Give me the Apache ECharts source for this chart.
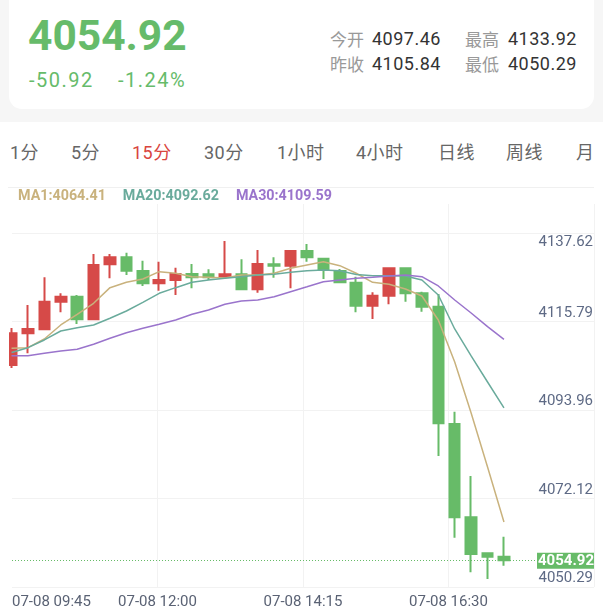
<!DOCTYPE html>
<html>
<head>
<meta charset="utf-8">
<script src="https://cdn.jsdelivr.net/npm/echarts@6/dist/echarts.min.js"></script>
<style>
  body { margin: 0; width: 603px; height: 612px; overflow: hidden; background: #fff;
         font-family: Roboto, "Noto Sans CJK SC", sans-serif; position: relative; }
  .band { position: absolute; left: 0; top: 0; width: 603px; height: 122px; background: #f6f6f6; }
  .card { position: absolute; left: 9px; top: -20px; width: 585px; height: 129px; background: #fff;
          border-radius: 0 0 13px 13px; }
  .price { position: absolute; left: 28px; top: 14px; font-size: 42.5px; line-height: 44px; font-weight: bold; color: #66bb6a; }
  .chg { position: absolute; top: 70px; font-size: 20px; line-height: 20px; color: #66bb6a; letter-spacing: 1.5px; }
  .k { position: absolute; font-size: 17px; line-height: 18px; color: #999; font-family: "Noto Sans CJK SC", sans-serif; }
  .v { position: absolute; font-size: 18px; line-height: 18px; color: #333; letter-spacing: 0.5px; }
  .tabs { position: absolute; left: 0; top: 143px; width: 594px; height: 24px; overflow: hidden;
          font-size: 18px; line-height: 20px; color: #666; white-space: nowrap; }
  .tabs span { position: absolute; top: 0; letter-spacing: 0.5px; }
  .tabs .on { color: #d9453e; }
  .sep { position: absolute; left: 8px; width: 586px; top: 187px; height: 1px; background: #f0f0f0; }
  #chart { position: absolute; left: 9px; top: 188px; width: 594px; height: 424px; }
</style>
</head>
<body>
<div class="band"></div>
<div class="card"></div>
<div class="price">4054.92</div>
<div class="chg" style="left:29px">-50.92</div>
<div class="chg" style="left:118px">-1.24%</div>
<div class="k" style="left:330px;top:30px">今开</div>
<div class="v" style="left:372px;top:30px">4097.46</div>
<div class="k" style="left:465px;top:30px">最高</div>
<div class="v" style="left:508px;top:30px">4133.92</div>
<div class="k" style="left:330px;top:55px">昨收</div>
<div class="v" style="left:372px;top:55px">4105.84</div>
<div class="k" style="left:465px;top:55px">最低</div>
<div class="v" style="left:508px;top:55px">4050.29</div>
<div class="tabs">
  <span style="left:10px">1分</span><span style="left:71px">5分</span><span class="on" style="left:132px">15分</span>
  <span style="left:204px">30分</span><span style="left:277px">1小时</span><span style="left:356px">4小时</span>
  <span style="left:438px">日线</span><span style="left:506px">周线</span><span style="left:576px">月线</span>
</div>
<div class="sep"></div>
<div id="chart"></div>

<script>
// 15分钟K线 07-08
const times = ['07-08 09:45', '07-08 10:00', '07-08 10:15', '07-08 10:30', '07-08 10:45', '07-08 11:00',
  '07-08 11:15', '07-08 11:30', '07-08 11:45', '07-08 12:00', '07-08 12:15', '07-08 12:30', '07-08 12:45',
  '07-08 13:00', '07-08 13:15', '07-08 13:30', '07-08 13:45', '07-08 14:00', '07-08 14:15', '07-08 14:30',
  '07-08 14:45', '07-08 15:00', '07-08 15:15', '07-08 15:30', '07-08 15:45', '07-08 16:00', '07-08 16:15',
  '07-08 16:30', '07-08 16:45', '07-08 17:00', '07-08 17:15'];

// [open, close, low, high]
const candles = [
  [4103.24, 4111.08, 4102.50, 4112.40], [4111.08, 4112.15, 4106.14, 4118.09], [4112.07, 4118.90, 4111.90, 4124.94],
  [4118.90, 4120.14, 4116.28, 4120.98], [4120.14, 4114.55, 4113.38, 4120.56], [4114.55, 4127.98, 4114.37, 4130.70],
  [4128.16, 4129.89, 4124.69, 4130.70], [4129.89, 4126.57, 4125.51, 4131.03], [4126.50, 4123.45, 4122.79, 4129.05],
  [4123.45, 4124.27, 4121.62, 4128.80], [4124.27, 4125.76, 4120.56, 4127.32], [4125.76, 4124.94, 4122.22, 4128.23],
  [4125.68, 4124.94, 4124.27, 4126.92], [4125.09, 4125.68, 4124.94, 4133.92], [4125.68, 4121.97, 4121.90, 4129.39],
  [4121.97, 4128.23, 4121.13, 4131.69], [4128.16, 4127.81, 4124.84, 4129.89], [4127.81, 4131.45, 4122.22, 4131.69],
  [4131.45, 4129.89, 4128.80, 4133.18], [4129.54, 4126.75, 4124.52, 4129.79], [4126.50, 4123.70, 4123.45, 4126.99],
  [4123.60, 4117.91, 4116.28, 4125.09], [4117.91, 4120.39, 4114.62, 4121.23], [4120.39, 4127.17, 4118.26, 4127.24],
  [4127.17, 4120.98, 4118.90, 4127.32], [4120.98, 4117.67, 4116.43, 4121.38], [4117.67, 4088.82, 4080.72, 4120.81],
  [4088.64, 4065.56, 4060.51, 4091.68], [4065.56, 4056.48, 4051.95, 4075.78], [4056.65, 4055.81, 4050.29, 4056.65],
  [4055.81, 4054.92, 4053.58, 4060.76]
];

const ma1 = [4107.37, 4107.52, 4109.67, 4113.14, 4115.78, 4118.51, 4122.37, 4123.70, 4124.52, 4126.33, 4125.93,
  4125.09, 4124.94, 4124.77, 4125.51, 4125.51, 4125.93, 4127.17, 4127.98, 4128.80, 4127.81, 4125.93, 4123.70,
  4123.21, 4122.04, 4120.31, 4114.37, 4103.98, 4091.36, 4078.00, 4064.41];
const ma20 = [4106.33, 4107.52, 4109.43, 4111.65, 4112.47, 4113.14, 4114.80, 4116.60, 4118.75, 4120.98, 4122.37,
  4123.70, 4124.27, 4124.69, 4125.09, 4125.51, 4125.68, 4126.18, 4126.57, 4126.75, 4126.57, 4125.63, 4125.34,
  4125.34, 4125.26, 4124.27, 4120.56, 4112.15, 4105.47, 4099.03, 4092.62];
const ma30 = [4105.54, 4105.54, 4106.14, 4106.70, 4107.12, 4108.36, 4109.85, 4111.23, 4112.32, 4113.31, 4114.37,
  4115.78, 4116.85, 4118.26, 4119.08, 4119.32, 4120.14, 4121.38, 4122.61, 4123.85, 4124.27, 4124.69, 4124.94,
  4125.26, 4125.51, 4125.09, 4122.79, 4119.32, 4116.11, 4112.72, 4109.59];

const xTickLabels = ['07-08 09:45', '07-08 12:00', '07-08 14:15', '07-08 16:30'];
const yTickLabels = ['4050.29', '4072.12', '4093.96', '4115.79', '4137.62'];

const upColor = '#d64a48';
const downColor = '#67bb68';
const maColors = ['#c9b27d', '#6aab9c', '#9a74cc'];
const lastClose = candles[candles.length - 1][1];

let chart = echarts.init(document.getElementById('chart'));

let option = {
  animation: false,
  title: {
    left: 9, top: 1, padding: 0,
    text: '{a|MA1:' + ma1[ma1.length - 1].toFixed(2) + '}{b|MA20:' + ma20[ma20.length - 1].toFixed(2) +
      '}{c|MA30:' + ma30[ma30.length - 1].toFixed(2) + '}',
    textStyle: {
      rich: {
        a: { color: maColors[0], fontSize: 14.3, fontFamily: 'Roboto', padding: [0, 17, 0, 0] },
        b: { color: maColors[1], fontSize: 14.3, fontFamily: 'Roboto', padding: [0, 17, 0, 0] },
        c: { color: maColors[2], fontSize: 14.3, fontFamily: 'Roboto' }
      }
    }
  },
  grid: { left: 0, right: 9, top: 16, bottom: 25 },
  xAxis: [
    // bar positions (index), one bar = 16.5px; first bar partly cut off at the left
    { type: 'value', min: 0.03, max: 35.485, show: false },
    // grid / time labels
    {
      type: 'value', min: 0, max: 4, interval: 1, position: 'bottom',
      axisLine: { show: false }, axisTick: { show: false },
      splitLine: { show: true, showMinLine: false, lineStyle: { color: '#f2f2f2' } },
      axisLabel: {
        color: '#5a6274', fontSize: 15, fontFamily: 'Roboto', margin: 8, alignMinLabel: 'left',
        formatter: (v) => xTickLabels[Math.round(v)] || ''
      }
    }
  ],
  yAxis: [
    { type: 'value', min: 4048.31, max: 4143.07, show: false },
    {
      type: 'value', min: 0, max: 4.3277, interval: 1, position: 'right',
      axisLine: { show: false }, axisTick: { show: false },
      splitLine: { show: true, showMaxLine: false, lineStyle: { color: '#f2f2f2' } },
      axisLabel: {
        inside: true, margin: 1,
        formatter: (v) => {
          let i = Math.round(v);
          if (Math.abs(v - i) > 1e-6 || !yTickLabels[i]) return '';
          return (i === yTickLabels.length - 1 ? '{t|' : '{b|') + yTickLabels[i] + '}';
        },
        rich: {
          t: { color: '#5e6a85', fontSize: 15, fontFamily: 'Roboto', padding: [18, 0, 0, 0] },
          b: { color: '#5e6a85', fontSize: 15, fontFamily: 'Roboto', padding: [0, 0, 17, 0] }
        }
      }
    }
  ],
  series: [
    {
      type: 'candlestick',
      xAxisIndex: 0, yAxisIndex: 0,
      data: candles.map((d, i) => [i, d[0], d[1], d[2], d[3]]),
      encode: { x: 0, y: [1, 2, 3, 4] },
      barWidth: 11,
      itemStyle: { color: upColor, color0: downColor, borderColor: upColor, borderColor0: downColor, borderWidth: 2 },
      markLine: {
        silent: true,
        symbol: ['none', 'none'],
        data: [{ yAxis: lastClose }],
        lineStyle: { color: downColor, type: [1, 2], width: 1 },
        label: {
          position: 'insideEndTop', distance: [0, -8.5],
          formatter: lastClose.toFixed(2),
          backgroundColor: downColor, color: '#fff', fontSize: 15, fontFamily: 'Roboto', fontWeight: 'bold',
          padding: [1, 0, 0, 1]
        }
      }
    },
    {
      type: 'line', name: 'MA1', xAxisIndex: 0, yAxisIndex: 0, symbol: 'none',
      data: ma1.map((v, i) => [i, v]), lineStyle: { color: maColors[0], width: 1.5 }
    },
    {
      type: 'line', name: 'MA20', xAxisIndex: 0, yAxisIndex: 0, symbol: 'none',
      data: ma20.map((v, i) => [i, v]), lineStyle: { color: maColors[1], width: 1.5 }
    },
    {
      type: 'line', name: 'MA30', xAxisIndex: 0, yAxisIndex: 0, symbol: 'none',
      data: ma30.map((v, i) => [i, v]), lineStyle: { color: maColors[2], width: 1.5 }
    }
  ]
};
chart.setOption(option);
</script>
</body>
</html>
